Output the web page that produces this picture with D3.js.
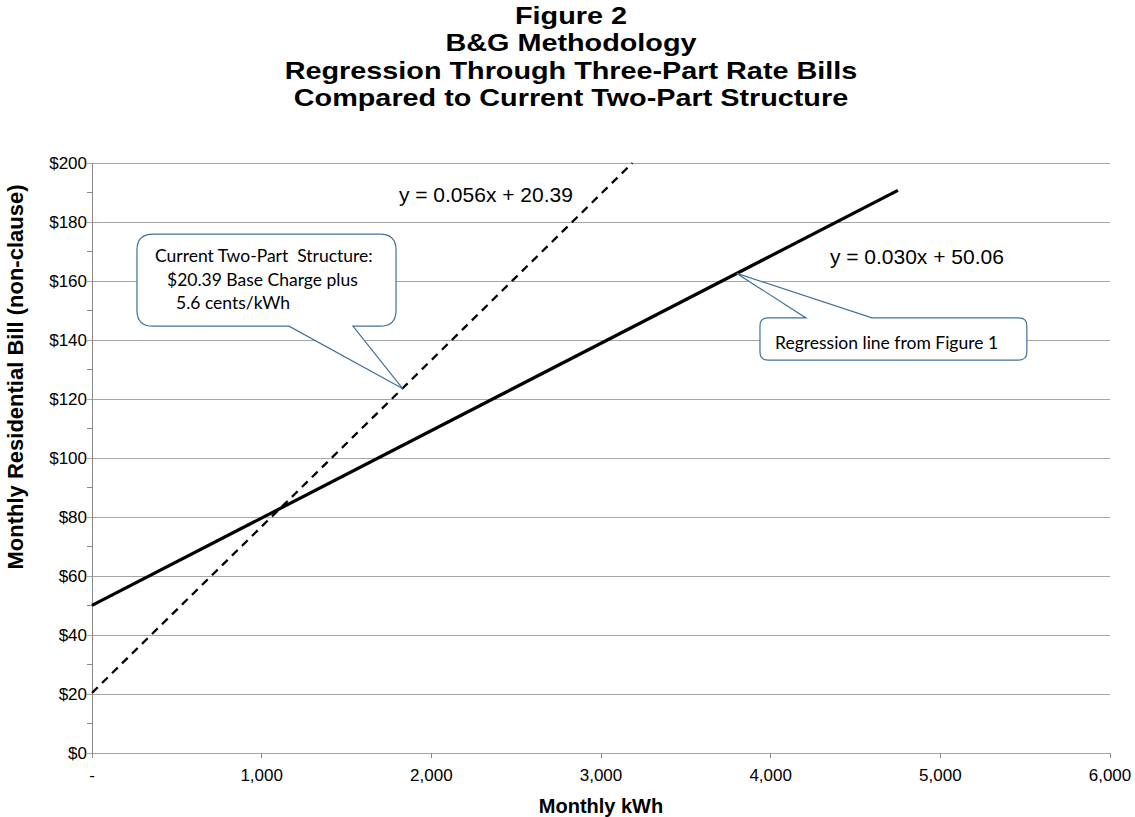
<!DOCTYPE html>
<html><head><meta charset="utf-8">
<script src="https://cdn.jsdelivr.net/npm/d3@7"></script>
<style>body{margin:0;background:#fff}svg{display:block}</style>
</head><body><svg id="chart" width="1135" height="817"></svg>
<script>
const titleLines = ["Figure 2","B&G Methodology","Regression Through Three-Part Rate Bills","Compared to Current Two-Part Structure"];
const xTicks = [0,1000,2000,3000,4000,5000,6000];
const xTickLabels = ["-","1,000","2,000","3,000","4,000","5,000","6,000"];
const yTicks = [0,20,40,60,80,100,120,140,160,180,200];
const yTickLabels = ["$0","$20","$40","$60","$80","$100","$120","$140","$160","$180","$200"];
const twoPartKwh = [0, 3185];
const twoPartBill = [20.39, 200];
const regressionKwh = [0, 4750];
const regressionBill = [50.06, 190.7];
const eqTwoPart = "y = 0.056x + 20.39";
const eqRegression = "y = 0.030x + 50.06";
const callout1 = ["Current Two-Part  Structure:","$20.39 Base Charge plus","5.6 cents/kWh"];
const callout2 = ["Regression line from Figure 1"];

const svg = d3.select("#chart");
const L=92, R=1110, T=163, B=753;
const x = d3.scaleLinear().domain([0,6000]).range([L,R]);
const y = d3.scaleLinear().domain([0,200]).range([B,T]);
const grid="#a6a6a6", axisC="#888888";
const arial="Liberation Sans, Arial, sans-serif";

// title: four tightly spaced lines
svg.append("g").attr("transform","translate(571,0) scale(1.22,1)")
  .selectAll("text").data(titleLines).join("text")
  .attr("x",0).attr("y",(d,i)=>24+i*27.4).attr("text-anchor","middle")
  .attr("font-family",arial).attr("font-weight","bold")
  .attr("font-size",23.6).attr("fill","#000").text(d=>d);

// gridlines
svg.append("g").selectAll("line").data(yTicks).join("line")
  .attr("x1",L-5).attr("x2",R).attr("y1",d=>y(d)).attr("y2",d=>y(d))
  .attr("stroke",grid).attr("stroke-width",1).attr("shape-rendering","crispEdges");
// minor ticks
svg.append("g").selectAll("line").data(d3.range(10,200,20)).join("line")
  .attr("x1",L-5).attr("x2",L).attr("y1",d=>y(d)).attr("y2",d=>y(d))
  .attr("stroke",axisC).attr("shape-rendering","crispEdges");
// y axis line
svg.append("line").attr("x1",L).attr("x2",L).attr("y1",T).attr("y2",B+5)
  .attr("stroke",axisC).attr("shape-rendering","crispEdges");
// x axis ticks
svg.append("g").selectAll("line").data(xTicks).join("line")
  .attr("x1",d=>x(d)).attr("x2",d=>x(d)).attr("y1",B).attr("y2",B+5)
  .attr("stroke",axisC).attr("shape-rendering","crispEdges");

// y tick labels
svg.append("g").selectAll("text").data(yTicks).join("text")
  .attr("x",L-5).attr("y",d=>y(d)+6).attr("text-anchor","end")
  .attr("font-family",arial).attr("font-size",17)
  .text((d,i)=>yTickLabels[i]);
// x tick labels
svg.append("g").selectAll("text").data(xTicks).join("text")
  .attr("x",d=>x(d)).attr("y",B+28).attr("text-anchor","middle")
  .attr("font-family",arial).attr("font-size",17)
  .text((d,i)=>xTickLabels[i]);

// axis titles
svg.append("text").attr("x",601).attr("y",813).attr("text-anchor","middle")
  .attr("font-family",arial).attr("font-weight","bold").attr("font-size",20)
  .text("Monthly kWh");
svg.append("text").attr("transform","translate(23,377) rotate(-90)").attr("text-anchor","middle")
  .attr("font-family",arial).attr("font-weight","bold").attr("font-size",22)
  .text("Monthly Residential Bill (non-clause)");

// lines
const line = d3.line().x(d=>x(d[0])).y(d=>y(d[1]));
svg.append("path").datum(twoPartKwh.map((k,i)=>[k,twoPartBill[i]]))
  .attr("d",line).attr("fill","none").attr("stroke","#000").attr("stroke-width",2.3).attr("stroke-dasharray","8,6");
svg.append("path").datum(regressionKwh.map((k,i)=>[k,regressionBill[i]]))
  .attr("d",line).attr("fill","none").attr("stroke","#000").attr("stroke-width",3.2);

// equations
svg.append("text").attr("x",x(1809)).attr("y",202)
  .attr("font-family",arial).attr("font-size",21).text(eqTwoPart);
svg.append("text").attr("x",x(4349)).attr("y",264)
  .attr("font-family",arial).attr("font-size",21).text(eqRegression);

// callouts
function interp(ks,vs,k){return vs[0]+(vs[1]-vs[0])*(k-ks[0])/(ks[1]-ks[0]);}
function calloutPath(x0,y0,x1,y1,r,side,p1,p2,tx,ty){
  let p = `M${x0+r},${y0}`;
  if(side==="top"){p+=`L${p1},${y0}L${tx},${ty}L${p2},${y0}`;}
  p+=`L${x1-r},${y0}Q${x1},${y0} ${x1},${y0+r}L${x1},${y1-r}Q${x1},${y1} ${x1-r},${y1}`;
  if(side==="bottom"){p+=`L${p2},${y1}L${tx},${ty}L${p1},${y1}`;}
  p+=`L${x0+r},${y1}Q${x0},${y1} ${x0},${y1-r}L${x0},${y0+r}Q${x0},${y0} ${x0+r},${y0}Z`;
  return p;
}
const cStroke="#41719c";
const t1k=1830, t1v=interp(twoPartKwh,twoPartBill,t1k);
svg.append("path").attr("d",calloutPath(x(265),y(175.9),x(1792),y(144.7),16,"bottom",x(1161),x(1538),x(t1k),y(t1v)))
  .attr("fill","#fff").attr("stroke",cStroke).attr("stroke-width",1.2);
const c1x=[155,167,176];
svg.append("g").selectAll("text").data(callout1).join("text")
  .attr("x",(d,i)=>c1x[i]).attr("y",(d,i)=>262+i*23.5)
  .attr("font-family","Lato, Calibri, sans-serif").attr("font-size",17.5).attr("fill","#000")
  .attr("xml:space","preserve").style("white-space","pre").text(d=>d);

const t2k=3800, t2v=interp(regressionKwh,regressionBill,t2k);
svg.append("path").attr("d",calloutPath(x(3937),y(147.5),x(5510),y(133.2),8,"top",x(4208),x(4597),x(t2k),y(t2v)))
  .attr("fill","#fff").attr("stroke",cStroke).attr("stroke-width",1.2);
svg.append("text").attr("x",775).attr("y",349)
  .attr("font-family","Lato, Calibri, sans-serif").attr("font-size",17.5).attr("fill","#000").text(callout2[0]);
</script></body></html>
